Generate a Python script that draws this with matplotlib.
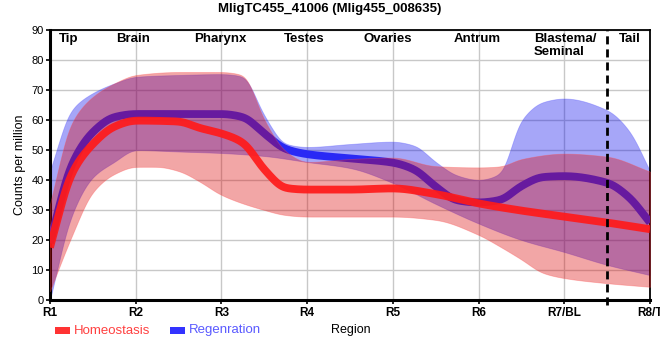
import numpy as np
import matplotlib
matplotlib.use("Agg")
import matplotlib.pyplot as plt
from matplotlib.patches import Rectangle

plt.rcParams['font.family'] = ['Liberation Sans', 'DejaVu Sans']

# ---------------- data ----------------
title = "MligTC455_41006 (Mlig455_008635)"
tick_labels = ["R1", "R2", "R3", "R4", "R5", "R6", "R7/BL", "R8/T"]
region_names = ["Tip", "Brain", "Pharynx", "Testes", "Ovaries", "Antrum", "Blastema/\nSeminal", "Tail"]
series_names = ["Homeostasis", "Regenration"]

# Homeostasis (red): mean line
h_mean_pos = [1, 1.25, 1.5, 1.75, 2, 2.5, 2.75, 3, 3.25, 3.5, 3.75, 4, 4.5, 5, 5.5, 6, 6.5, 7, 7.5, 8]
h_mean_val = [17.5, 42, 52, 57.8, 59.8, 59.5, 57.3, 55.5, 52.5, 43.5, 37.3, 36.8, 36.8, 37.2, 35.3, 32.2, 29.8, 27.8, 25.8, 23.6]
# Homeostasis band upper / lower
h_hi_pos = [1, 1.25, 1.5, 1.75, 2, 2.5, 3, 3.25, 3.5, 3.75, 4, 4.5, 5, 5.5, 6, 6.25, 6.5, 7, 7.5, 8]
h_hi_val = [32, 59, 67.8, 72.2, 75, 76, 76, 75, 60, 49.5, 46, 47, 47.5, 44.6, 44.2, 44.5, 47, 48.8, 47.8, 42.8]
h_lo_pos = [1, 1.25, 1.5, 1.75, 2, 2.25, 2.5, 2.75, 3, 3.5, 3.75, 4, 5, 5.5, 6, 6.25, 6.5, 6.75, 7, 7.5, 8]
h_lo_val = [3, 21, 36, 42, 44.4, 44.4, 43, 39.4, 35, 30, 28.3, 27.8, 27.8, 26.7, 21.7, 17.8, 13.5, 9, 7.3, 5.6, 4.4]

# Regeneration (blue): mean line
b_mean_pos = [1, 1.25, 1.5, 1.75, 2, 2.5, 3, 3.25, 3.5, 3.75, 4, 4.5, 5, 5.25, 5.5, 5.75, 6, 6.25, 6.5, 6.75, 7, 7.5, 7.75, 8]
b_mean_val = [19, 45, 56, 61, 62, 62, 62, 61, 55.5, 50.3, 48.6, 47.2, 45.8, 43.5, 37.8, 33.2, 32.5, 33.3, 38, 41, 41.3, 39.1, 34.4, 25.8]
# Regeneration band upper / lower
b_hi_pos = [1, 1.25, 1.5, 1.75, 2, 2.5, 3, 3.25, 3.5, 3.75, 4, 4.5, 5, 5.25, 5.5, 5.75, 6, 6.25, 6.5, 6.75, 7, 7.5, 7.75, 8]
b_hi_val = [43, 63.3, 69, 72.2, 74.4, 75, 75.3, 74.5, 61.5, 52, 51, 52, 52.8, 51.5, 46, 41.5, 40, 42, 60, 66, 67.2, 63.3, 56.7, 43]
b_lo_pos = [1, 1.25, 1.5, 1.75, 2, 2.5, 3, 3.5, 4, 4.5, 5, 5.5, 6, 6.5, 7, 7.5, 8]
b_lo_val = [0, 28, 41, 46, 50, 49.5, 49, 48, 46, 44, 39, 32, 25.5, 20, 16, 11.7, 8.3]


def pchip(x, y, xs):
    x = np.asarray(x, float)
    y = np.asarray(y, float)
    h = np.diff(x)
    d = np.diff(y) / h
    n = len(x)
    m = np.zeros(n)
    for k in range(1, n - 1):
        if d[k - 1] * d[k] <= 0:
            m[k] = 0.0
        else:
            w1 = 2 * h[k] + h[k - 1]
            w2 = h[k] + 2 * h[k - 1]
            m[k] = (w1 + w2) / (w1 / d[k - 1] + w2 / d[k])
    m[0] = d[0]
    m[-1] = d[-1]
    idx = np.clip(np.searchsorted(x, xs) - 1, 0, n - 2)
    t = (xs - x[idx]) / h[idx]
    h00 = 2 * t**3 - 3 * t**2 + 1
    h10 = t**3 - 2 * t**2 + t
    h01 = -2 * t**3 + 3 * t**2
    h11 = t**3 - t**2
    return h00 * y[idx] + h10 * h[idx] * m[idx] + h01 * y[idx + 1] + h11 * h[idx] * m[idx + 1]


xs = np.linspace(1, 8, 1401)
step = xs[1] - xs[0]


def curve(pos, val, sigma=0.045):
    y = pchip(pos, val, xs)
    r = int(4 * sigma / step)
    k = np.exp(-0.5 * (np.arange(-r, r + 1) * step / sigma) ** 2)
    k /= k.sum()
    # odd reflection keeps the end values and slopes
    left = 2 * y[0] - y[1:r + 1][::-1]
    right = 2 * y[-1] - y[-r - 1:-1][::-1]
    yp = np.concatenate([left, y, right])
    return np.convolve(yp, k, mode='valid')


fig = plt.figure(figsize=(6.6, 3.6), dpi=100)
ax = fig.add_axes([50 / 660, 1 - 300 / 360, 600 / 660, 270 / 360])

blue_fill = (0.0, 0.0, 0.92)
red_fill = (0.86, 0.0, 0.0)

# Regeneration first
ax.fill_between(xs, curve(b_lo_pos, b_lo_val), curve(b_hi_pos, b_hi_val),
                facecolor=blue_fill, alpha=0.35, edgecolor=(0.3, 0.3, 1.0, 0.5), lw=0.6, zorder=2)
ax.plot(xs, curve(b_mean_pos, b_mean_val), color=(0.16, 0.16, 0.96), lw=5.6,
        solid_capstyle='butt', zorder=3)
# Homeostasis
ax.fill_between(xs, curve(h_lo_pos, h_lo_val), curve(h_hi_pos, h_hi_val),
                facecolor=red_fill, alpha=0.35, edgecolor=(1.0, 0.3, 0.3, 0.5), lw=0.6, zorder=4)
ax.plot(xs, curve(h_mean_pos, h_mean_val), color='#ff1a1a', alpha=0.92, lw=5.6,
        solid_capstyle='butt', zorder=5)

# boundary marker
ax.axvline(7.5, ymin=-0.02, ymax=1, color='black', lw=2.0, linestyle=(0, (2.9, 1.8)),
           clip_on=False, zorder=7)

ax.set_xlim(1, 8)
ax.set_ylim(0, 90)
ax.set_xticks(range(1, 9))
ax.set_xticklabels(tick_labels, fontsize=8.5, fontweight='bold')
ax.set_yticks(range(0, 91, 10))
ax.tick_params(axis='y', labelsize=8, length=3, width=1.2, pad=1.5)
ax.tick_params(axis='x', length=3, width=1.2, pad=2)
ax.grid(True, color='#c8c8c8', lw=1.0, zorder=0)
ax.set_axisbelow(True)

for side in ['left', 'bottom']:
    ax.spines[side].set_linewidth(2.2)
for side in ['top', 'right']:
    ax.spines[side].set_linewidth(1.3)

ax.set_ylabel("Counts per million", fontsize=9)
ax.set_xlabel("Region", fontsize=9)
ax.xaxis.set_label_coords((351 - 50) / 600, -(324 - 300) / 270)
ax.yaxis.set_label_coords(-(50 - 26) / 600, 0.5)

label_x = [1.22, 1.97, 2.99, 3.96, 4.94, 5.98, 7.01, 7.77]
for name, lx in zip(region_names, label_x):
    ax.text(lx, 88.9, name, ha='center', va='top', fontsize=9.5, fontweight='bold',
            multialignment='left', linespacing=1.05, zorder=8)

fig.text(0.5, 1 - 9 / 360, title, ha='center', va='center', fontsize=9.5, fontweight='bold')

# legend
leg_colors = ['#ff3333', '#3333ff']
text_colors = ['#ff4040', '#5a5aff']
rect_x = [55, 170]
text_x = [74, 189]
for name, rc, tc, rx, tx in zip(series_names, leg_colors, text_colors, rect_x, text_x):
    fig.patches.append(Rectangle((rx / 660, 1 - 334 / 360), 15 / 660, 7 / 360,
                                 transform=fig.transFigure, facecolor=rc, edgecolor='none'))
    fig.text(tx / 660, 1 - 330.5 / 360, name, color=tc, fontsize=9.5, ha='left', va='center')

fig.savefig("out.png", dpi=100)
